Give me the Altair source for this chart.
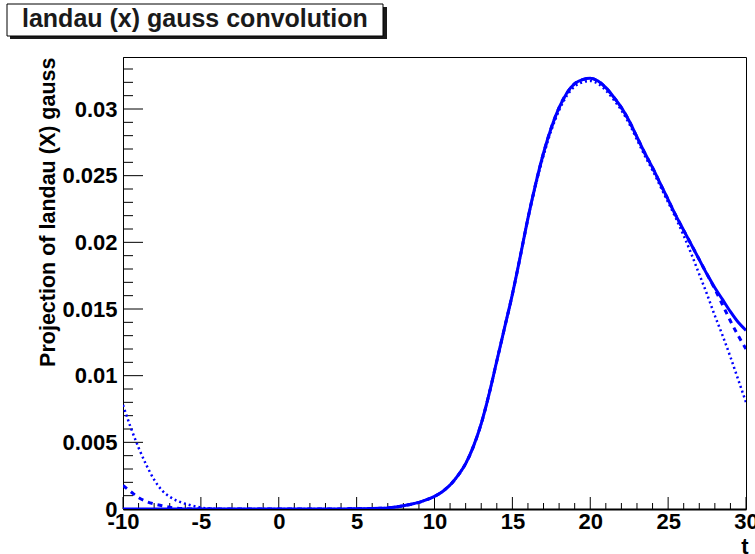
import altair as alt
import pandas as pd

# ---------------- data ----------------
T = [-10, -9.5, -9, -8.5, -8, -7.5, -7, -6.5, -6, -5.5,
     -5, -4.5, -4, -3.5, -3, -2.5, -2, -1.5, -1, -0.5,
     0, 0.5, 1, 1.5, 2, 2.5, 3, 3.5, 4, 4.5,
     5, 5.5, 6, 6.5, 7, 7.5, 8, 8.5, 9, 9.5,
     10, 10.5, 11, 11.5, 12, 12.5, 13, 13.5, 14, 14.5,
     15, 15.5, 16, 16.5, 17, 17.5, 18, 18.5, 19, 19.5,
     20, 20.5, 21, 21.5, 22, 22.5, 23, 23.5, 24, 24.5,
     25, 25.5, 26, 26.5, 27, 27.5, 28, 28.5, 29, 29.5,
     30]

# solid curve
SOLID = [0, 0, 0, 0, 0, 0, 0, 0, 0, 0,
         0, 0, 0, 0, 0, 0, 0, 0, 0, 0,
         0, 0, 0, 0, 0, 0, 0, 0, 0, 0.00001,
         0.00001, 0.00002, 0.00003, 0.00005, 0.00008, 0.00015, 0.00025, 0.00036, 0.0005, 0.0007,
         0.00095, 0.0013, 0.0018, 0.0025, 0.0034, 0.0047, 0.0064, 0.0086, 0.0111, 0.0136,
         0.0161, 0.0189, 0.0218, 0.0244, 0.0267, 0.0286, 0.0301, 0.0312, 0.0319, 0.0322,
         0.0323, 0.0321, 0.0316, 0.0309, 0.0301, 0.0291, 0.0279, 0.0267, 0.0256, 0.0244,
         0.0232, 0.0220, 0.0209, 0.0198, 0.0187, 0.0176, 0.0166, 0.0157, 0.0148, 0.0140,
         0.0134]

# dashed curve: left tail (t=-10..-5.5), coincides with solid, right end (t=28..30)
DASHED_LEFT = [0.00176, 0.0013, 0.00085, 0.00056, 0.00038, 0.00025, 0.00013, 0.00006, 0.00002, 0.0]
DASHED_RIGHT = [0.0165, 0.0153, 0.0141, 0.0130, 0.0120]
DASHED = DASHED_LEFT + SOLID[10:76] + DASHED_RIGHT

# dotted curve: left tail (t=-10..-4), coincides with solid, then t=16.5..30
DOTTED_LEFT = [0.0078, 0.0061, 0.0046, 0.0033, 0.0022, 0.0014, 0.00092, 0.0006, 0.00039, 0.00023,
               0.00011, 0.00004, 0.00001]
DOTTED_RIGHT = [0.0243, 0.0265, 0.0284, 0.0299, 0.0310, 0.0317, 0.0320,
                0.0321, 0.0319, 0.0314, 0.0307, 0.0299, 0.0289, 0.0277, 0.0265, 0.0254, 0.0242,
                0.0230, 0.0218, 0.0205, 0.0191, 0.0176, 0.0161, 0.0145, 0.0130, 0.0114, 0.0097,
                0.0080]
DOTTED = DOTTED_LEFT + SOLID[13:53] + DOTTED_RIGHT

X_MAJOR = [-10, -5, 0, 5, 10, 15, 20, 25, 30]
X_MINOR = [-9, -8, -7, -6, -4, -3, -2, -1, 1, 2, 3, 4, 6, 7, 8, 9,
           11, 12, 13, 14, 16, 17, 18, 19, 21, 22, 23, 24, 26, 27, 28, 29]
Y_MAJOR = [0, 0.005, 0.01, 0.015, 0.02, 0.025, 0.03]
Y_MINOR = [0.001, 0.002, 0.003, 0.004, 0.006, 0.007, 0.008, 0.009,
           0.011, 0.012, 0.013, 0.014, 0.016, 0.017, 0.018, 0.019,
           0.021, 0.022, 0.023, 0.024, 0.026, 0.027, 0.028, 0.029,
           0.031, 0.032, 0.033]

TITLE = "landau (x) gauss convolution"
Y_TITLE = "Projection of landau (X) gauss"
X_TITLE = "t"

# ---------------- chart ----------------
W, H = 623, 452
FONT = "Liberation Sans"
BLUE = "#0000ff"

xs = alt.Scale(domain=[-10, 30], nice=False, zero=False)
ys = alt.Scale(domain=[0, 0.0339], nice=False, zero=False)

x_axis = alt.Axis(values=X_MAJOR, labelExpr="'' + datum.value", ticks=False, grid=False,
                  domain=True, domainColor="black",
                  domainWidth=2, labelFont=FONT, labelFontSize=22, labelFontWeight="bold",
                  labelColor="black", labelPadding=2, labelFlush=False, labelOverlap=False,
                  title=X_TITLE, titleFont=FONT, titleFontSize=22, titleFontWeight="bold",
                  titleColor="black", titleAnchor="end", titleAlign="right",
                  titleBaseline="alphabetic", titleX=625, titleY=44)
y_axis = alt.Axis(values=Y_MAJOR, format="~g", ticks=False, grid=False, domain=True,
                  domainColor="black", domainWidth=1, labelFont=FONT, labelFontSize=22,
                  labelFontWeight="bold", labelColor="black", labelPadding=6,
                  labelFlush=False, labelOverlap=False,
                  title=Y_TITLE, titleFont=FONT, titleFontSize=21.5, titleFontWeight="bold",
                  titleColor="black", titleAngle=270, titleAlign="right",
                  titleBaseline="alphabetic", titleX=-69, titleY=0)


def X(field):
    return alt.X(field, scale=xs, axis=x_axis, title=X_TITLE)


def Y(field):
    return alt.Y(field, scale=ys, axis=y_axis, title=Y_TITLE)


def curve(vals, width, dash=None):
    df = pd.DataFrame({"t": T, "v": vals})
    kw = dict(color=BLUE, strokeWidth=width, interpolate="monotone", clip=True)
    if dash is not None:
        kw["strokeDash"] = dash
    return alt.Chart(df).mark_line(**kw).encode(x=X("t:Q"), y=Y("v:Q"))


dotted = curve(DOTTED, 2.5, [2, 3])
dashed = curve(DASHED, 3, [5, 5])
solid = curve(SOLID, 3)

ymaj = alt.Chart(pd.DataFrame({"v": Y_MAJOR})).mark_rule(color="black", strokeWidth=1).encode(
    y=Y("v:Q"), x=alt.value(0), x2=alt.value(20))
ymin = alt.Chart(pd.DataFrame({"v": Y_MINOR})).mark_rule(color="black", strokeWidth=1).encode(
    y=Y("v:Q"), x=alt.value(0), x2=alt.value(10))
xmaj = alt.Chart(pd.DataFrame({"t": X_MAJOR})).mark_rule(color="black", strokeWidth=1).encode(
    x=X("t:Q"), y=alt.value(H), y2=alt.value(H - 12))
xmin = alt.Chart(pd.DataFrame({"t": X_MINOR})).mark_rule(color="black", strokeWidth=1).encode(
    x=X("t:Q"), y=alt.value(H), y2=alt.value(H - 6))

one = pd.DataFrame({"k": [0]})
shadow = alt.Chart(one).mark_rect(color="#1a1a1a").encode(
    x=alt.value(-113), x2=alt.value(264), y=alt.value(-50), y2=alt.value(-18))
box = alt.Chart(one).mark_rect(fill="white", stroke="black", strokeWidth=1).encode(
    x=alt.value(-116), x2=alt.value(260), y=alt.value(-53), y2=alt.value(-21))
title = alt.Chart(one).mark_text(font=FONT, fontSize=25, fontWeight="bold", color="#1a1a1a",
                                 align="left", baseline="alphabetic").encode(
    x=alt.value(-101), y=alt.value(-30), text=alt.value(TITLE))

chart = alt.layer(
    ymin, ymaj, xmin, xmaj, dotted, dashed, solid, shadow, box, title
).properties(
    width=W, height=H,
    autosize=alt.AutoSizeParams(type="none"),
    padding={"left": 123, "top": 57, "right": 9, "bottom": 45},
    background="white",
).configure_view(stroke="black", strokeWidth=1)

chart.save("out.html", embed_options={"renderer": "svg", "actions": False})
